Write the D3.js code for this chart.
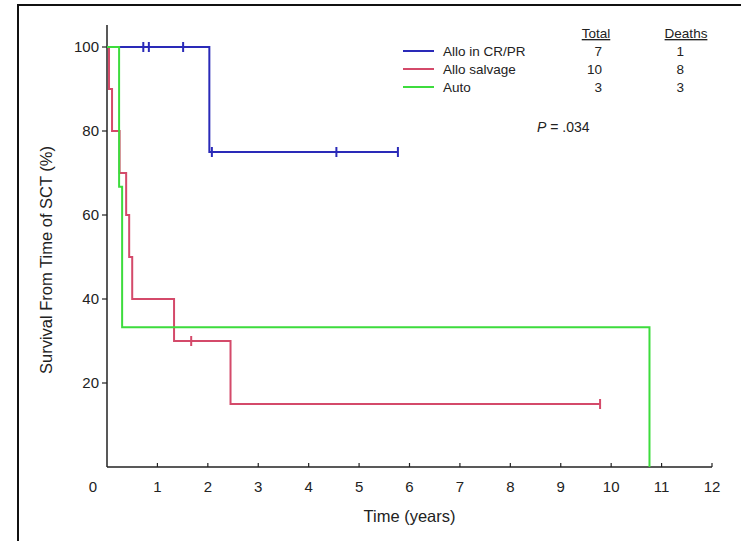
<!DOCTYPE html>
<html lang="en">
<head>
    <meta charset="UTF-8">
    <title>Survival from time of SCT</title>
    <script src="https://d3js.org/d3.v7.js"></script>
    <style>
        body { margin: 0; background: #fff; }
        text { font-family: "Liberation Sans", Arial, sans-serif; fill: #222; }
    </style>
</head>
<body>
    <svg></svg>
    <script>
        // groups in legend order
        const groups = ["Allo in CR/PR", "Allo salvage", "Auto"];
        const totals = [7, 10, 3];
        const deaths = [1, 8, 3];
        const colors = ["#2a2ab8", "#d44a6a", "#3ddc3d"];

        // step points: [time in years, survival %]
        const alloCR = [[0, 100], [2.03, 100], [2.03, 75], [5.77, 75]];
        const alloSalvage = [[0, 100], [0.04, 100], [0.04, 90], [0.1, 90], [0.1, 80], [0.25, 80], [0.25, 70],
            [0.38, 70], [0.38, 60], [0.44, 60], [0.44, 50], [0.5, 50], [0.5, 40], [1.33, 40], [1.33, 30],
            [2.45, 30], [2.45, 15], [9.78, 15]];
        const auto = [[0, 100], [0.24, 100], [0.24, 66.7], [0.3, 66.7], [0.3, 33.3], [10.76, 33.3], [10.76, 0]];

        // censored observations: [time, survival %]
        const alloCRCensor = [[0.72, 100], [0.83, 100], [1.51, 100], [2.08, 75], [4.55, 75], [5.77, 75]];
        const alloSalvageCensor = [[1.67, 30], [9.78, 15]];
        const autoCensor = [];

        const xTicks = d3.range(0, 13);
        const yTicks = [20, 40, 60, 80, 100];

        const curves = [alloCR, alloSalvage, auto];
        const censors = [alloCRCensor, alloSalvageCensor, autoCensor];

        const width = 741;
        const height = 541;

        const svg = d3.select("svg")
            .attr("width", width)
            .attr("height", height);

        // outer frame (top and left edges only, like the cropped figure)
        svg.append("path")
            .attr("d", `M18,${height} V5 H${width}`)
            .attr("fill", "none")
            .attr("stroke", "#111")
            .attr("stroke-width", 2);

        const x = d3.scaleLinear().domain([0, 12]).range([107, 712]);
        const y = d3.scaleLinear().domain([0, 100]).range([467, 47]);

        // x axis
        const xAxis = svg.append("g").attr("transform", `translate(0,${y(0)})`);
        xAxis.append("line")
            .attr("x1", x(0)).attr("x2", x(12))
            .attr("stroke", "#222").attr("stroke-width", 1.5);
        xAxis.selectAll(".xt")
            .data(xTicks.slice(1))
            .join("line")
            .attr("x1", d => x(d)).attr("x2", d => x(d))
            .attr("y1", 0).attr("y2", -4)
            .attr("stroke", "#222").attr("stroke-width", 1.2);
        xAxis.selectAll(".xl")
            .data(xTicks)
            .join("text")
            .attr("x", d => d === 0 ? x(d) - 14 : x(d))
            .attr("y", 25)
            .attr("text-anchor", "middle")
            .attr("font-size", 15)
            .text(d => d);

        // y axis
        const yAxis = svg.append("g").attr("transform", `translate(${x(0)},0)`);
        yAxis.append("line")
            .attr("y1", y(0)).attr("y2", 25)
            .attr("stroke", "#222").attr("stroke-width", 1.5);
        yAxis.selectAll(".yt")
            .data(yTicks)
            .join("line")
            .attr("x1", -5).attr("x2", d => d === 100 ? 4 : 0)
            .attr("y1", d => y(d)).attr("y2", d => y(d))
            .attr("stroke", "#222").attr("stroke-width", 1.2);
        yAxis.selectAll(".yl")
            .data(yTicks)
            .join("text")
            .attr("x", -8)
            .attr("y", d => y(d))
            .attr("dy", "0.35em")
            .attr("text-anchor", "end")
            .attr("font-size", 15)
            .text(d => d);

        // axis titles
        svg.append("text")
            .attr("x", (x(0) + x(12)) / 2)
            .attr("y", 522)
            .attr("text-anchor", "middle")
            .attr("font-size", 16.5)
            .text("Time (years)");
        svg.append("text")
            .attr("transform", `translate(52,${260}) rotate(-90)`)
            .attr("text-anchor", "middle")
            .attr("font-size", 16.5)
            .text("Survival From Time of SCT (%)");

        // curves
        const line = d3.line().x(d => x(d[0])).y(d => y(d[1]));
        svg.selectAll(".curve")
            .data(curves)
            .join("path")
            .attr("d", line)
            .attr("fill", "none")
            .attr("stroke", (d, i) => colors[i])
            .attr("stroke-width", 2);

        // censor marks
        censors.forEach((pts, i) => {
            svg.selectAll(".c" + i)
                .data(pts)
                .join("line")
                .attr("x1", d => x(d[0])).attr("x2", d => x(d[0]))
                .attr("y1", d => y(d[1]) - 5).attr("y2", d => y(d[1]) + 5)
                .attr("stroke", colors[i])
                .attr("stroke-width", 2);
        });

        // legend
        const legend = svg.append("g");
        legend.append("text").attr("x", 596).attr("y", 38).attr("text-anchor", "middle")
            .attr("font-size", 13.5).attr("text-decoration", "underline").text("Total");
        legend.append("text").attr("x", 686).attr("y", 38).attr("text-anchor", "middle")
            .attr("font-size", 13.5).attr("text-decoration", "underline").text("Deaths");
        groups.forEach((g, i) => {
            const yy = 51 + i * 18;
            legend.append("line")
                .attr("x1", 403).attr("x2", 434)
                .attr("y1", yy).attr("y2", yy)
                .attr("stroke", colors[i]).attr("stroke-width", 2);
            legend.append("text").attr("x", 443).attr("y", yy).attr("dy", "0.35em")
                .attr("font-size", 13.5).text(g);
            legend.append("text").attr("x", 602).attr("y", yy).attr("dy", "0.35em")
                .attr("text-anchor", "end").attr("font-size", 13.5).text(totals[i]);
            legend.append("text").attr("x", 684).attr("y", yy).attr("dy", "0.35em")
                .attr("text-anchor", "end").attr("font-size", 13.5).text(deaths[i]);
        });
        const pText = legend.append("text").attr("x", 537).attr("y", 132).attr("font-size", 14);
        pText.append("tspan").attr("font-style", "italic").text("P");
        pText.append("tspan").text(" = .034");
    </script>
</body>
</html>
